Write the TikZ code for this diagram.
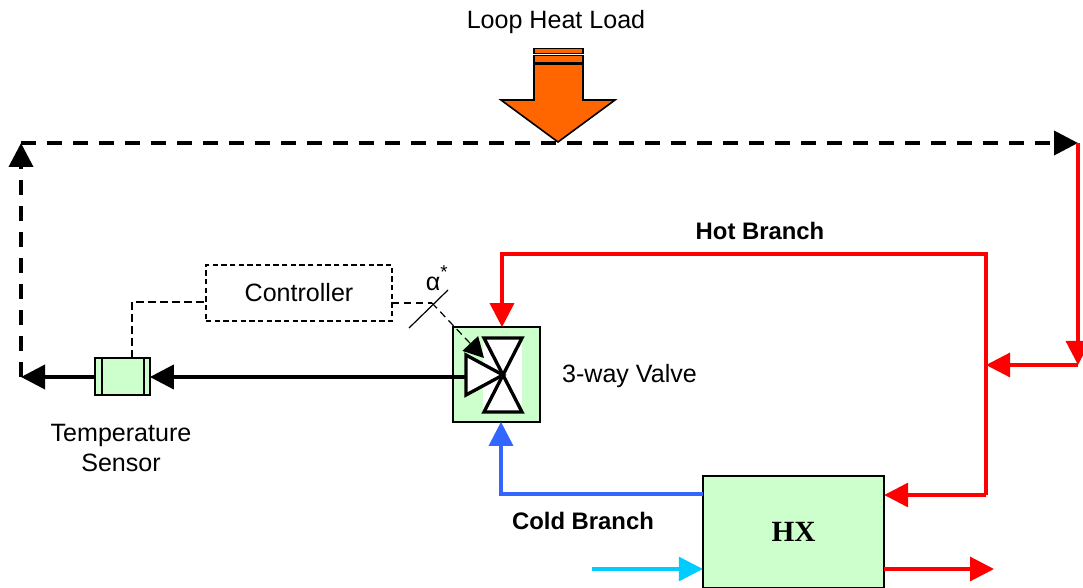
\documentclass[tikz,border=0pt]{standalone}
\usepackage{fontspec}
\setmainfont{Liberation Sans}
\newfontfamily\hxfont{Liberation Serif}
\usetikzlibrary{arrows.meta,positioning,calc}
\definecolor{gc}{RGB}{204,255,204}
\definecolor{hotc}{RGB}{255,0,0}
\definecolor{coldc}{RGB}{51,102,255}
\definecolor{cyanc}{RGB}{0,204,255}
\definecolor{loadc}{RGB}{255,102,0}
\tikzset{lbl/.style={font=\fontsize{18.8}{23}\selectfont,align=center,inner sep=0pt},
 blbl/.style={lbl,font=\fontsize{17.9}{22}\selectfont\bfseries},
 gbox/.style={draw,fill=gc,line width=1.3pt,inner sep=0pt,outer sep=0pt},
 ctrlbox/.style={draw,dash pattern=on 4pt off 2.5pt,line width=.8pt,inner sep=0pt,outer sep=0pt},
 arrtip/.style={-{Triangle[length=18pt,width=18pt]}},
 pipe/.style={arrtip,line width=2.4pt},
 loopl/.style={arrtip,line width=2.8pt,dash pattern=on 11.2pt off 8.3pt},
 sig/.style={line width=.9pt,dash pattern=on 5.5pt off 3.5pt},
 vtri/.style={draw,fill=white,line width=2.5pt,line join=miter},
 load/.style={draw,fill=loadc,line width=1.2pt,line join=miter},
 stripe/.style={load,line width=.9pt}}
\begin{document}
\begin{tikzpicture}[x=.75pt,y=-.75pt]
\useasboundingbox (0,0) rectangle (1083,588);
% labels
\node[lbl] (loadtxt) at (556,22.5) {Loop Heat Load};
\node[blbl] (hottxt) at (760,231) {Hot Branch};
\node[blbl] (coldtxt) at (583,521) {Cold Branch};
\node[lbl] (valvetxt) at (629.5,376) {3-way Valve};
\node[lbl] (senstxt) at (121,448) {Temperature\\Sensor};
% heat load arrow
\draw[stripe] (534,48.5) rectangle (583,53.5);
\draw[stripe] (534,55.5) rectangle (583,62.5);
\draw[load] (534,64)--(583,64)--(583,100)--(615,100)--(558,142)--(501,100)--(534,100)--cycle;
% boxes
\node[ctrlbox,minimum width=139.5pt,minimum height=42pt,font=\fontsize{18.8}{23}\selectfont] (ctrl) at (299,293) {Controller};
\node[gbox,minimum width=41pt,minimum height=28pt] (sens) at (122.5,376.5) {};
\draw[line width=1.2pt] (102,358)--(102,395) (144,358)--(144,395);
\node[gbox,minimum width=65pt,minimum height=71pt] (valve) at (496.5,374.5) {};
\node[gbox,minimum width=136pt,minimum height=84pt,font=\hxfont\fontsize{22}{26}\selectfont\bfseries] (hx) at (793.5,532) {HX};
% valve inside
\fill[white] (483,337) rectangle (522,413);
\coordinate (vc) at (503,375);
\draw[vtri] (466,355)--(vc)--(466,395)--cycle;
\draw[vtri] (484,338)--(522,338)--(vc)--cycle;
\draw[vtri] (484,412)--(522,412)--(vc)--cycle;
% corners and free ends
\coordinate (tl) at (21,143);
\coordinate (bl) at (21,377);
\coordinate (tr) at (1078,143);
\coordinate (rd) at (1078,365);
\coordinate (rj) at (986,365);
\coordinate (ht) at (986,254);
\coordinate (hb) at (986,495);
\coordinate (hl) at (502,254);
\coordinate (cl) at (501,494);
\coordinate (cin) at (592,569);
\coordinate (hout) at (994,569);
\coordinate (sl) at (432,303);
\coordinate (vl) at (465,377);
% loop
\draw[loopl] (bl)--(tl);
\draw[loopl] (tl)--(tr);
\draw[arrtip,line width=2.8pt] (vl)--(sens.east|-bl);
\draw[arrtip,line width=2.8pt] (sens.west|-bl)--(bl);
% hot side
\draw[pipe,hotc] (tr)--(rd);
\draw[pipe,hotc] (rd)--(rj);
\draw[pipe,hotc] (hb)--(hx.east|-hb);
\draw[pipe,hotc] (hb)--(ht)--(hl)--(hl|-valve.north);
\draw[pipe,hotc] (hx.east|-hout)--(hout);
% cold side
\draw[pipe,coldc] (hx.west|-cl)--(cl)--(cl|-valve.south);
\draw[pipe,cyanc] (cin)--(hx.west|-cin);
% controller signals
\draw[sig] (sens.north-|132,0)--(132,302)--(ctrl.west|-0,302);
\draw[sig] (ctrl.east|-sl)--(sl);
\draw[sig,-{Triangle[length=15pt,width=16pt]}] (sl)--(484,358);
\draw[line width=.9pt] (448,290)--(409,328);
\node[lbl] (alpha) at (433,284) {α};
\node[lbl,font=\fontsize{14}{15}\selectfont] (star) at (444,272) {*};
\end{tikzpicture}
\end{document}
